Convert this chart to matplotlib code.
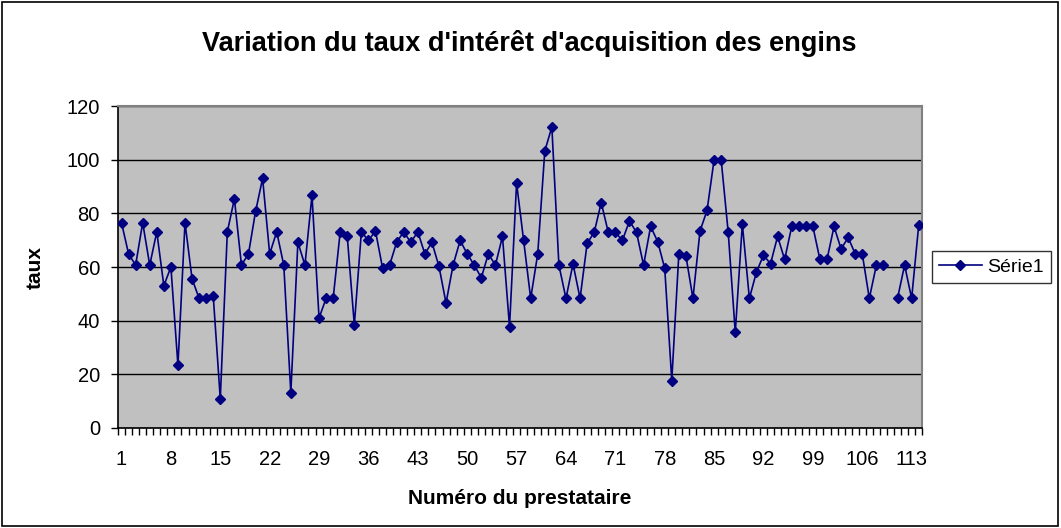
import numpy as np
import matplotlib
matplotlib.use('Agg')
import matplotlib.pyplot as plt

plt.rcParams['font.family'] = ['Liberation Sans', 'DejaVu Sans']

# Numéro du prestataire 1..114, valeur manquante au n° 110
prestataires = np.arange(1, 115)
taux = [
    76.5, 64.9, 60.7, 76.5, 60.7, 73.1, 53.0, 60.0, 23.3, 76.5,
    55.6, 48.3, 48.3, 49.3, 10.9, 73.1, 85.4, 60.7, 64.9, 80.7,
    93.0, 64.9, 73.1, 60.7, 13.1, 69.2, 60.7, 86.7, 41.0, 48.3,
    48.3, 73.1, 71.4, 38.4, 73.1, 69.9, 73.4, 59.7, 60.7, 69.2,
    73.1, 69.2, 73.1, 64.9, 69.2, 60.2, 46.6, 60.7, 69.9, 64.9,
    60.7, 56.0, 64.9, 60.7, 71.4, 37.7, 91.3, 69.9, 48.3, 64.9,
    103.2, 112.2, 60.7, 48.3, 61.2, 48.3, 68.8, 72.9, 84.0, 72.9,
    72.9, 69.9, 77.2, 72.9, 60.7, 75.1, 69.5, 59.5, 17.7, 64.9,
    64.2, 48.3, 73.4, 81.1, 100.0, 100.0, 72.9, 35.6, 76.0, 48.3,
    58.1, 64.4, 61.2, 71.4, 62.8, 75.1, 75.1, 75.1, 75.1, 62.8,
    62.8, 75.1, 66.7, 71.0, 64.9, 64.9, 48.3, 60.7, 60.7, np.nan,
    48.3, 60.7, 48.3, 75.6,
]
y_ticks = [0, 20, 40, 60, 80, 100, 120]
x_labels = list(range(1, 115, 7))

fig = plt.figure(figsize=(10.61, 5.28), dpi=100)
fig.patch.set_facecolor('white')
# black frame round the whole chart
fig.add_artist(plt.Rectangle((0.002, 0.003), 0.995, 0.994, transform=fig.transFigure,
                             fill=False, edgecolor='black', linewidth=1.2))

ax = fig.add_axes([0.1112, 0.1894, 0.758, 0.6098])
ax.set_facecolor('#C0C0C0')

line, = ax.plot(prestataires, taux, color='#000080', linewidth=1.2,
                marker='D', markersize=5, markerfacecolor='#000080',
                markeredgecolor='#000080', label='Série1', zorder=3)

ax.set_xlim(0.5, 114.5)
ax.set_ylim(0, 120)
ax.set_yticks(y_ticks)
ax.yaxis.grid(True, color='black', linewidth=1)
ax.set_axisbelow(True)

ax.set_xticks(x_labels)
ax.set_xticklabels([str(v) for v in x_labels])
ax.set_xticks(np.arange(0.5, 115, 1), minor=True)
ax.tick_params(axis='x', which='major', length=0, labelsize=14.5, pad=16)
ax.tick_params(axis='x', which='minor', length=5, width=1, direction='out')
ax.tick_params(axis='y', length=5, width=1, direction='out', labelsize=14.5, pad=8)

for side in ['top', 'right']:
    ax.spines[side].set_color('#808080')
    ax.spines[side].set_linewidth(1.5)
for side in ['left', 'bottom']:
    ax.spines[side].set_color('black')
    ax.spines[side].set_linewidth(1.2)

fig.text(0.499, 0.918, "Variation du taux d'intérêt d'acquisition des engins",
         fontsize=19.5, fontweight='bold', ha='center', va='center')
ax.set_xlabel('Numéro du prestataire', fontsize=15, fontweight='bold', labelpad=14)
ax.set_ylabel('taux', fontsize=15, fontweight='bold', labelpad=16)

leg = ax.legend(loc='center left', bbox_to_anchor=(1.005, 0.5), fontsize=14,
                frameon=True, fancybox=False, edgecolor='black',
                handlelength=2.2, borderpad=0.35, handletextpad=0.3,
                borderaxespad=0.3)
leg.get_frame().set_linewidth(1)

fig.savefig('out.png', dpi=100)
